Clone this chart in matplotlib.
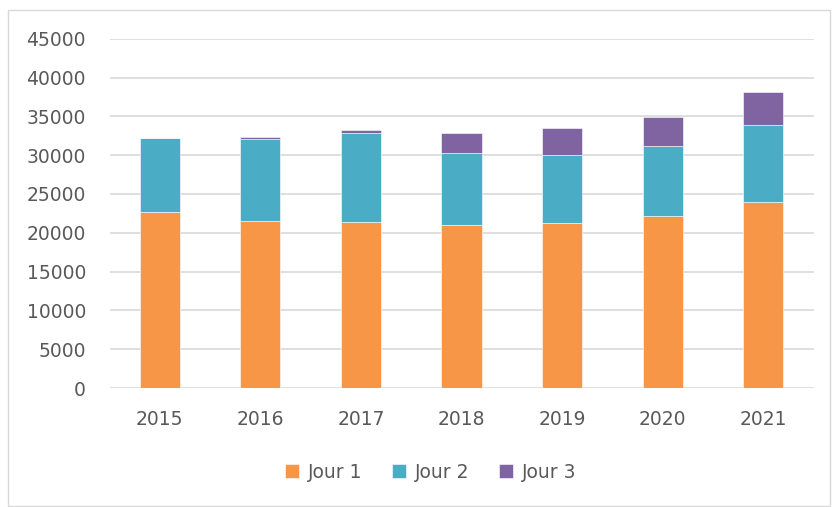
import matplotlib.pyplot as plt
import numpy as np
from matplotlib.patches import Rectangle

years = ['2015', '2016', '2017', '2018', '2019', '2020', '2021']
jour1 = [22700, 21500, 21450, 21050, 21200, 22100, 24000]
jour2 = [9500, 10550, 11350, 9280, 8830, 9140, 9940]
jour3 = [0, 300, 400, 2570, 3440, 3640, 4200]

c1 = '#F79646'
c2 = '#4BACC6'
c3 = '#8064A2'
txt = '#595959'

fig = plt.figure(figsize=(8.33, 5.07), dpi=100)
ax = fig.add_axes([109.5/833, 1-388/507, (813.5-109.5)/833, (388-38.7)/507])

x = np.arange(len(years))
w = 0.4
b2 = np.array(jour1)
b3 = b2 + np.array(jour2)
ax.bar(x, jour1, w, color=c1, edgecolor='white', linewidth=0.4, label='Jour 1', zorder=3)
ax.bar(x, jour2, w, bottom=b2, color=c2, edgecolor='white', linewidth=0.4, label='Jour 2', zorder=3)
ax.bar(x, jour3, w, bottom=b3, color=c3, edgecolor='white', linewidth=0.4, label='Jour 3', zorder=3)

ax.set_xlim(-0.5, 6.5)
ax.set_ylim(0, 45000)
ax.set_yticks(range(0, 45001, 5000))
ax.set_xticks(x)
ax.set_xticklabels(years)
ax.grid(axis='y', color='#D9D9D9', linewidth=1.2, zorder=0)
for s in ax.spines.values():
    s.set_visible(False)
ax.tick_params(axis='both', length=0, labelsize=13.5, colors=txt)
ax.tick_params(axis='y', pad=17)
ax.tick_params(axis='x', pad=16)

fig.legend(loc='center', bbox_to_anchor=(431/833, 1-472/507), ncol=3, frameon=False,
           handlelength=0.7, handleheight=0.7, handletextpad=0.5, columnspacing=1.6,
           fontsize=13.5, labelcolor=txt)

fig.patches.append(Rectangle((8/833, 1/507), 822/833, 496/507, transform=fig.transFigure,
                             fill=False, edgecolor='#D9D9D9', linewidth=1))

fig.savefig('out.png', dpi=100)
